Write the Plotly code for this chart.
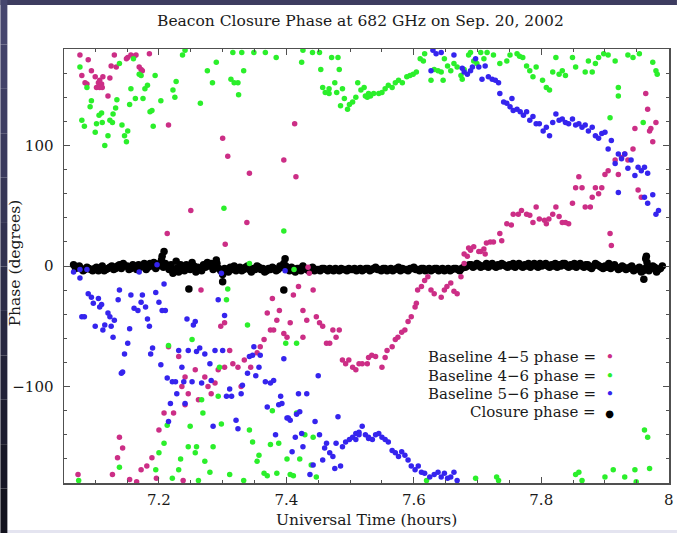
import plotly.graph_objects as go

# ---------------- data (time in UT hours, phase in degrees) ----------------
baseline_45 = [
    (7.076, 175), (7.079, 158), (7.084, 152), (7.087, 151), (7.089, 171), (7.094, 162),
    (7.100, 157), (7.102, 148), (7.105, 152), (7.107, 154), (7.107, 148), (7.110, 151),
    (7.111, 148), (7.112, 157), (7.120, 141), (7.123, 156), (7.125, 166), (7.130, 175),
    (7.133, 165), (7.149, 172), (7.151, 173), (7.156, 175), (7.161, 174), (7.164, 175),
    (7.169, 165), (7.172, 163), (7.174, 162), (7.185, 176),
    (7.073, -173), (7.127, -173), (7.135, -159), (7.138, -142), (7.143, -151), (7.154, -177),
    (7.172, -169), (7.181, -166), (7.189, -159), (7.200, -136), (7.208, -122), (7.223, -122),
    (7.165, -179), (7.238, -178), (7.196, -176),
    (7.215, 117), (7.300, 106), (7.308, 91), (7.342, 77), (7.413, 118), (7.396, 88),
    (7.415, 74), (7.250, 46), (7.338, 36), (7.213, 27), (7.304, 18),
    (7.215, -67), (7.231, -75), (7.241, -92), (7.236, -100), (7.246, -106), (7.241, -115),
    (7.257, -86), (7.262, -111), (7.266, -20), (7.272, -92), (7.277, -100), (7.282, -106),
    (7.288, -97), (7.293, -86), (7.297, -50), (7.303, -47), (7.303, -84), (7.311, -70),
    (7.316, -81), (7.324, -84), (7.329, -100), (7.334, -78), (7.344, -84), (7.354, -72),
    (7.359, -67), (7.365, -61), (7.370, -39), (7.375, -53), (7.380, -53), (7.378, -27),
    (7.385, -45), (7.389, -37), (7.396, -56), (7.401, -59), (7.406, -47), (7.411, -24),
    (7.419, -17), (7.426, -37), (7.432, -45), (7.426, -59), (7.442, -20), (7.447, -42),
    (7.452, -47), (7.457, -50), (7.463, -64), (7.468, -64), (7.473, -53), (7.478, -59),
    (7.483, -53), (7.488, -78), (7.493, -81), (7.498, -78), (7.504, -84), (7.509, -86),
    (7.514, -81), (7.519, -81), (7.527, -81), (7.534, -74), (7.434, -1), (7.436, -6),
    (7.529, -76), (7.540, -75), (7.550, -84), (7.555, -76), (7.558, -70), (7.566, -67),
    (7.571, -61), (7.575, -59), (7.581, -55), (7.586, -53), (7.591, -46), (7.596, -42),
    (7.602, -34), (7.604, -31), (7.606, -20), (7.612, -17), (7.617, -12), (7.622, -9),
    (7.627, -20), (7.632, -23), (7.643, -26), (7.648, -20), (7.652, -17), (7.658, -14),
    (7.663, -21), (7.668, -23), (7.674, -9), (7.679, 2), (7.684, 8), (7.689, 13),
    (7.694, 16), (7.702, 12), (7.710, 14), (7.714, 19), (7.725, 20),
    (7.679, 10), (7.686, 15), (7.705, 12), (7.712, 10), (7.720, 20), (7.735, 27),
    (7.738, 21), (7.746, 35), (7.753, 34), (7.756, 43), (7.764, 43), (7.769, 46),
    (7.777, 43), (7.782, 42), (7.787, 36), (7.792, 49), (7.797, 39), (7.805, 38),
    (7.808, 35), (7.812, 39), (7.818, 43), (7.823, 49), (7.828, 41), (7.833, 36),
    (7.838, 36), (7.843, 35), (7.849, 52), (7.854, 65), (7.859, 74), (7.864, 65),
    (7.869, 49), (7.877, 49), (7.880, 57), (7.885, 65), (7.890, 60), (7.895, 65),
    (7.900, 76), (7.905, 79), (7.908, 27), (7.910, 17), (7.916, 88), (7.921, 76),
    (7.926, 90), (7.931, 93), (7.936, 88), (7.944, 97), (7.947, 114), (7.952, 63),
    (7.957, 57), (7.964, 143), (7.967, 130), (7.970, 112), (7.975, 103), (7.980, 119),
    (7.972, 114),
]

baseline_46 = [
    (7.076, 165), (7.087, 148), (7.094, 137), (7.092, 132), (7.079, 121), (7.083, 116),
    (7.100, 111), (7.102, 118), (7.106, 125), (7.110, 127), (7.111, 119), (7.115, 100),
    (7.120, 108), (7.123, 121), (7.127, 119), (7.128, 126), (7.132, 131), (7.134, 138),
    (7.138, 168), (7.142, 117), (7.146, 108), (7.149, 103), (7.151, 112), (7.154, 134),
    (7.156, 147), (7.160, 172), (7.163, 139), (7.169, 159), (7.172, 158), (7.175, 139),
    (7.178, 147), (7.182, 150), (7.186, 128), (7.189, 129), (7.191, 116), (7.194, 158),
    (7.203, 137), (7.222, 146), (7.225, 140), (7.227, 153), (7.237, 175), (7.241, 179),
    (7.265, 135), (7.276, 162), (7.284, 152), (7.290, 169), (7.313, 155), (7.318, 152),
    (7.324, 152), (7.325, 142), (7.333, 162), (7.316, 177), (7.330, 177), (7.349, 177),
    (7.367, 177), (7.384, 173), (7.424, 169), (7.426, 179), (7.441, 177), (7.452, 177),
    (7.454, 163), (7.471, 173), (7.481, 173), (7.483, 163), (7.457, 148), (7.461, 144),
    (7.467, 147), (7.467, 143), (7.476, 152), (7.479, 144), (7.488, 147), (7.485, 133),
    (7.491, 139), (7.496, 130), (7.499, 134), (7.504, 136), (7.512, 152), (7.517, 146),
    (7.522, 148), (7.527, 140), (7.532, 141), (7.537, 143),
    (7.302, 48), (7.396, 29), (7.342, 2), (7.412, -3),
    (7.509, 140), (7.524, 141), (7.529, 143), (7.545, 143), (7.550, 144), (7.555, 147),
    (7.560, 150), (7.566, 148), (7.571, 152), (7.576, 154), (7.582, 152), (7.589, 157),
    (7.594, 158), (7.599, 159), (7.604, 161), (7.610, 172), (7.615, 170), (7.617, 176),
    (7.627, 154), (7.632, 163), (7.638, 162), (7.643, 161), (7.646, 154), (7.648, 172),
    (7.653, 166), (7.658, 162), (7.663, 168), (7.668, 165), (7.674, 158), (7.676, 155),
    (7.679, 163), (7.686, 175), (7.689, 177), (7.694, 170), (7.699, 168), (7.705, 177),
    (7.710, 172), (7.715, 177), (7.725, 175), (7.735, 168), (7.746, 170), (7.751, 175),
    (7.762, 176), (7.766, 174), (7.771, 173), (7.777, 166), (7.782, 162), (7.787, 157),
    (7.792, 165), (7.802, 154), (7.808, 148), (7.813, 146), (7.818, 161), (7.823, 173),
    (7.828, 159), (7.833, 162), (7.838, 158), (7.849, 173), (7.854, 165), (7.869, 161),
    (7.874, 170), (7.880, 161), (7.885, 168), (7.890, 173), (7.898, 176), (7.905, 175),
    (7.916, 170), (7.921, 148), (7.921, 141), (7.908, 123), (7.936, 175), (7.944, 173),
    (7.954, 176), (7.960, 119), (7.975, 169), (7.980, 162), (7.982, 159),
    (7.074, -178), (7.138, -167), (7.195, -169), (7.200, -155), (7.208, -147), (7.213, -132),
    (7.215, -66), (7.221, -176), (7.231, -169), (7.234, -160), (7.246, -150), (7.249, -133),
    (7.252, -61), (7.257, -155), (7.259, -150), (7.262, -178), (7.267, -111), (7.269, -122),
    (7.272, -162), (7.280, -171), (7.285, -150), (7.293, -108), (7.295, -84), (7.298, -131),
    (7.306, -28), (7.308, -19), (7.311, -173), (7.333, -178), (7.339, -49), (7.342, -136),
    (7.347, -146), (7.354, -162), (7.357, -157), (7.365, -172), (7.370, -174), (7.375, -148),
    (7.378, -120), (7.385, -172), (7.388, -147), (7.399, -64), (7.401, -160), (7.406, -173),
    (7.411, -174), (7.416, -64), (7.416, -122), (7.421, -160), (7.429, -140), (7.439, -165),
    (7.447, -175), (7.442, -142),
    (7.620, -178), (7.697, -176), (7.730, -175), (7.733, -178), (7.854, -173), (7.859, -171),
    (7.864, -178), (7.900, -175), (7.913, -169), (7.931, -175), (7.947, -169), (7.949, -179),
    (7.962, -136), (7.967, -142), (7.970, -168),
]

baseline_56 = [
    (7.066, -5), (7.076, -10), (7.076, -3), (7.087, -3), (7.079, -42), (7.083, -42),
    (7.089, -23), (7.094, -26), (7.097, -31), (7.100, -50), (7.105, -27), (7.107, -34),
    (7.110, -32), (7.112, -53), (7.115, -49), (7.120, -39), (7.123, -42), (7.125, -50),
    (7.128, -59), (7.130, -45), (7.136, -28), (7.138, -20), (7.141, -89), (7.143, -88),
    (7.146, -73), (7.151, -64), (7.154, -52), (7.156, -24), (7.161, -35), (7.167, -37),
    (7.169, -5), (7.172, -30), (7.174, -24), (7.179, -34), (7.182, -44), (7.185, -50),
    (7.187, -73), (7.190, -68), (7.195, -22), (7.197, 1), (7.200, -30), (7.203, -82),
    (7.205, -37), (7.208, -15), (7.210, -37), (7.213, -93), (7.215, -129), (7.218, -114),
    (7.221, -96), (7.226, -96), (7.228, -106), (7.231, -70), (7.236, -84), (7.239, -96),
    (7.241, -114), (7.244, -44), (7.246, -70), (7.252, -96), (7.254, -49), (7.257, -46),
    (7.259, -71), (7.264, -68), (7.267, -97), (7.272, -73), (7.280, -81), (7.282, -95),
    (7.285, -133), (7.288, -70), (7.293, -28), (7.298, -6), (7.300, -70), (7.303, -41),
    (7.306, -108), (7.311, -102), (7.314, -108), (7.321, -128), (7.324, -135), (7.329, -106),
    (7.331, -99), (7.339, -89), (7.342, -75), (7.347, -74), (7.349, -67), (7.352, -91),
    (7.357, -84), (7.359, -74), (7.367, -96), (7.370, -117), (7.375, -97), (7.380, -95),
    (7.383, -140), (7.388, -115), (7.391, -108), (7.393, -114), (7.396, -77), (7.398, -4),
    (7.401, -126), (7.403, -126), (7.406, -128), (7.409, -154), (7.414, -142), (7.416, -123),
    (7.419, -106), (7.421, -121), (7.424, -139), (7.426, -150), (7.432, -106), (7.437, -173),
    (7.442, -165), (7.445, -129), (7.450, -91), (7.452, -140), (7.457, -161), (7.460, -151),
    (7.463, -147), (7.468, -155), (7.473, -158), (7.476, -168), (7.478, -147), (7.481, -125),
    (7.485, -166), (7.488, -150), (7.493, -146), (7.499, -144), (7.504, -142), (7.509, -139),
    (7.514, -138), (7.519, -133), (7.524, -140), (7.529, -143), (7.535, -144), (7.509, -144),
    (7.514, -140), (7.529, -142), (7.540, -140), (7.545, -139), (7.550, -142), (7.555, -144),
    (7.560, -146), (7.566, -153), (7.571, -155), (7.576, -158), (7.581, -154), (7.586, -157),
    (7.591, -161), (7.596, -166), (7.602, -169), (7.607, -166), (7.612, -171), (7.617, -172),
    (7.625, -175), (7.632, -173), (7.638, -171), (7.643, -175), (7.648, -172), (7.653, -176),
    (7.658, -175), (7.663, -171), (7.668, -178),
    (7.630, 179), (7.635, 176), (7.643, 177), (7.663, 175), (7.627, 162), (7.676, 164),
    (7.679, 161), (7.684, 159), (7.689, 162), (7.692, 165), (7.697, 172), (7.702, 165),
    (7.707, 155), (7.712, 166), (7.717, 157), (7.723, 155), (7.728, 154), (7.733, 152),
    (7.735, 143), (7.741, 136), (7.746, 135), (7.751, 132), (7.754, 139), (7.756, 129),
    (7.762, 130), (7.767, 128), (7.772, 125), (7.777, 128), (7.782, 121), (7.787, 124),
    (7.792, 118), (7.797, 118), (7.803, 112), (7.808, 115), (7.813, 108), (7.818, 119),
    (7.823, 126), (7.828, 121), (7.833, 122), (7.838, 119), (7.843, 118), (7.849, 122),
    (7.854, 117), (7.859, 118), (7.864, 115), (7.869, 117), (7.874, 112), (7.880, 115),
    (7.885, 108), (7.890, 106), (7.895, 110), (7.900, 111), (7.905, 97), (7.910, 104),
    (7.916, 85), (7.921, 93), (7.926, 89), (7.931, 93), (7.936, 81), (7.941, 88),
    (7.947, 75), (7.952, 82), (7.957, 79), (7.962, 82), (7.967, 77), (7.921, 61),
    (7.962, 57), (7.967, 52), (7.975, 59), (7.980, 43), (7.984, 46),
]

closure = [
    (7.066, 1), (7.072, -1), (7.078, -2), (7.084, -3), (7.090, -2), (7.096, -4), (7.102, -1),
    (7.108, -2), (7.114, -4), (7.120, -2), (7.126, 0), (7.132, -2), (7.138, 1), (7.144, 2),
    (7.150, 0), (7.156, -2), (7.162, -1), (7.168, 1), (7.174, 0), (7.180, -3), (7.186, 2),
    (7.192, 3), (7.198, 0), (7.204, 5), (7.210, 2), (7.216, -3), (7.222, -6), (7.228, -2),
    (7.234, 1), (7.240, -4), (7.246, -1), (7.252, 3), (7.258, -5), (7.264, -2), (7.270, 1),
    (7.276, 3), (7.282, 2), (7.288, 0), (7.294, -2), (7.300, -7), (7.306, -3), (7.312, -1),
    (7.318, 0), (7.324, -2), (7.330, -4), (7.336, -1), (7.342, -3), (7.348, -2), (7.354, 0),
    (7.360, -3), (7.366, -5), (7.372, -2), (7.378, -1), (7.384, -4), (7.390, 0), (7.396, 2),
    (7.402, -3), (7.408, -1), (7.414, -5), (7.420, -2), (7.426, 0), (7.432, -3), (7.438, -2),
    (7.444, -4), (7.450, -3), (7.456, -2), (7.462, -3), (7.468, -2), (7.474, -4), (7.480, -3),
    (7.486, -2), (7.492, -3), (7.498, -2), (7.504, -3), (7.510, -4), (7.516, -2), (7.522, -3),
    (7.528, -2), (7.534, -3), (7.540, -1), (7.546, -3), (7.552, -2), (7.558, -4), (7.564, -2),
    (7.570, -3), (7.576, -1), (7.582, -2), (7.588, -3), (7.594, -2), (7.600, -1), (7.606, -3),
    (7.612, -2), (7.618, -4), (7.624, -2), (7.630, -3), (7.636, -2), (7.642, -3), (7.648, -4),
    (7.654, -2), (7.660, -3), (7.666, -2), (7.672, -4), (7.678, -1), (7.684, 0), (7.690, 1),
    (7.696, 0), (7.702, 1), (7.708, 0), (7.714, 2), (7.720, 1), (7.726, 0), (7.732, 1),
    (7.738, 2), (7.744, 0), (7.750, 1), (7.756, 2), (7.762, 1), (7.768, 0), (7.774, 1),
    (7.780, 2), (7.786, 1), (7.792, 0), (7.798, 2), (7.804, 1), (7.810, 0), (7.816, 1),
    (7.822, 2), (7.828, 1), (7.834, 2), (7.840, 0), (7.846, 1), (7.852, 2), (7.858, 1),
    (7.864, 0), (7.870, 1), (7.876, -1), (7.882, 0), (7.888, 1), (7.894, -1), (7.900, 0),
    (7.906, 2), (7.912, 0), (7.918, -1), (7.924, -2), (7.930, -1), (7.936, -2), (7.942, 0),
    (7.948, -3), (7.954, -1), (7.960, -4), (7.966, 3), (7.972, -2), (7.978, -1), (7.984, -3),
    (7.990, 0),
    (7.069, -2), (7.075, 0), (7.081, -4), (7.087, -1), (7.093, -3), (7.099, -2), (7.105, -4),
    (7.111, 0), (7.117, -3), (7.123, -1), (7.129, -3), (7.135, 0), (7.141, -2), (7.147, 0),
    (7.153, -3), (7.159, 1), (7.165, -3), (7.171, -1), (7.177, 2), (7.183, -1), (7.189, 0),
    (7.195, -2), (7.201, 2), (7.207, -1), (7.213, 0), (7.219, 1), (7.225, -3), (7.231, -5),
    (7.237, -2), (7.243, 1), (7.249, -3), (7.255, 0), (7.261, -1), (7.267, -4), (7.273, -1),
    (7.279, 0), (7.285, -3), (7.291, 2), (7.297, -4), (7.303, -2), (7.309, -5), (7.315, -3),
    (7.321, -4), (7.327, -1), (7.333, -3), (7.339, 0), (7.345, -5), (7.351, -3), (7.357, -1),
    (7.363, -2), (7.369, -4), (7.375, -3), (7.381, -2), (7.387, -3), (7.393, -1), (7.399, 0),
    (7.405, -4), (7.411, -3), (7.417, -2), (7.423, -4), (7.429, -2), (7.435, -4), (7.441, -1),
    (7.447, -3), (7.453, -4), (7.459, -2), (7.465, -4), (7.471, -3), (7.477, -2), (7.483, -4),
    (7.489, -3), (7.495, -4), (7.501, -3), (7.507, -2), (7.513, -3), (7.519, -4), (7.525, -2),
    (7.531, -4), (7.537, -2), (7.543, -3), (7.549, -4), (7.555, -2), (7.561, -3), (7.567, -4),
    (7.573, -2), (7.579, -4), (7.585, -3), (7.591, -4), (7.597, -2), (7.603, -3), (7.609, -4),
    (7.615, -2), (7.621, -3), (7.627, -4), (7.633, -2), (7.639, -4), (7.645, -2), (7.651, -3),
    (7.657, -4), (7.663, -2), (7.669, -3), (7.675, -2), (7.681, -1), (7.687, 1), (7.693, -1),
    (7.699, 2), (7.705, -1), (7.711, 0), (7.717, -1), (7.723, 2), (7.729, -1), (7.735, 0),
    (7.741, 1), (7.747, -1), (7.753, 0), (7.759, -1), (7.765, 2), (7.771, -1), (7.777, 0),
    (7.783, -1), (7.789, 2), (7.795, -1), (7.801, 0), (7.807, 2), (7.813, -1), (7.819, 0),
    (7.825, -1), (7.831, 0), (7.837, 2), (7.843, -1), (7.849, 0), (7.855, -1), (7.861, 2),
    (7.867, -1), (7.873, 1), (7.879, -2), (7.885, 2), (7.891, 0), (7.897, -2), (7.903, -1),
    (7.909, -2), (7.915, 1), (7.921, -3), (7.927, 0), (7.933, -3), (7.939, -1), (7.945, -4),
    (7.951, -2), (7.957, -5), (7.963, -2), (7.969, -4), (7.975, 0), (7.981, -5), (7.987, -2),
    (7.208, 12), (7.247, -19), (7.300, -13), (7.396, -20), (7.398, 6), (7.964, 6),
    (7.961, -11), (7.965, 8), (7.205, 8), (7.227, 4), (7.290, 5),
]

series_names = ["Baseline 4\u22125 phase", "Baseline 4\u22126 phase",
                "Baseline 5\u22126 phase", "Closure phase"]
x_ticks = [7.2, 7.4, 7.6, 7.8, 8.0]
x_tick_labels = ["7.2", "7.4", "7.6", "7.8", "8"]
y_ticks = [-100, 0, 100]
y_tick_labels = ["\u2212100", "0", "100"]

# ---------------- styling ----------------
PINK, GREEN, BLUE, BLACK = "#cc2e86", "#2bef2b", "#3524ee", "#000000"
FONT = "DejaVu Serif"
TXT = "#1a1a1a"
W, H = 681, 533
ML, MR, MT, MB = 64, 8, 49, 50
PW, PH = W - ML - MR, H - MT - MB


def px(xpix):
    return (xpix - ML) / PW


def py(ypix):
    return (H - MB - ypix) / PH


fig = go.Figure()


def add(series, color, size, name):
    t, v = zip(*series)
    fig.add_trace(go.Scatter(x=list(t), y=list(v), mode="markers", name=name,
                             marker=dict(color=color, size=size, line=dict(width=0)),
                             showlegend=False, hoverinfo="skip"))


add(closure, BLACK, 7.5, series_names[3])
add(baseline_45, PINK, 5.5, series_names[0])
add(baseline_46, GREEN, 5.5, series_names[1])
add(baseline_56, BLUE, 5.5, series_names[2])

axis_common = dict(showline=True, linecolor="#505050", linewidth=1.5, mirror="allticks",
                   ticks="inside", ticklen=6, tickwidth=1, tickcolor="#505050",
                   showgrid=False, zeroline=False,
                   tickfont=dict(family=FONT, size=15, color=TXT))

fig.update_xaxes(range=[7.051, 8.0005], tickmode="array", tickvals=x_ticks, ticktext=x_tick_labels,
                 minor=dict(tick0=7.0, dtick=0.05, ticks="inside", ticklen=3,
                            tickcolor="#505050", showgrid=False),
                 ticklabelstandoff=2, **axis_common)
fig.update_yaxes(range=[-180, 180], tickmode="array", tickvals=y_ticks, ticktext=y_tick_labels,
                 minor=dict(tick0=0, dtick=20, ticks="inside", ticklen=3,
                            tickcolor="#505050", showgrid=False),
                 ticklabelstandoff=6, **axis_common)

# background frame (dark slide border around the white panel)
shapes = [
    dict(type="rect", xref="paper", yref="paper", x0=px(0), x1=px(W), y0=py(5), y1=py(0),
         fillcolor="#3d3c60", line=dict(width=0), layer="below"),
    dict(type="rect", xref="paper", yref="paper", x0=px(0), x1=px(W), y0=py(H), y1=py(530),
         fillcolor="#e4e4f0", line=dict(width=0), layer="below"),
]
strip_cols = ["#46466e", "#424269", "#3e3e63", "#3a3a5d", "#363656", "#313150",
              "#2c2c48", "#272740", "#222238", "#1c1c2f", "#171726", "#12121d"]
n = len(strip_cols)
for i, c in enumerate(strip_cols):
    shapes.append(dict(type="rect", xref="paper", yref="paper", x0=px(0), x1=px(7),
                       y0=py(H * (i + 1) / n), y1=py(H * i / n),
                       fillcolor=c, line=dict(width=0), layer="below"))

annotations = [
    dict(text="Beacon Closure Phase at 682 GHz on Sep. 20, 2002", x=px(362), y=py(21),
         xref="paper", yref="paper", showarrow=False, xanchor="center", yanchor="middle",
         font=dict(family=FONT, size=15.5, color=TXT)),
    dict(text="Universal Time (hours)", x=px(369), y=py(520), xref="paper", yref="paper",
         showarrow=False, xanchor="center", yanchor="middle",
         font=dict(family=FONT, size=15.5, color=TXT)),
    dict(text="Phase (degrees)", x=px(15), y=py(263), xref="paper", yref="paper",
         showarrow=False, xanchor="center", yanchor="middle", textangle=-90,
         font=dict(family=FONT, size=15.5, color=TXT)),
]
legend_rows = [(series_names[0], PINK, "\u2022"), (series_names[1], GREEN, "\u2022"),
               (series_names[2], BLUE, "\u2022"), (series_names[3], BLACK, "\u25CF")]
legend_y = [357, 376, 394, 412]
for (label, col, sym), ly in zip(legend_rows, legend_y):
    size = 10 if sym == "\u25CF" else 15
    annotations.append(dict(
        text=f"{label} =&nbsp;&nbsp;<span style='color:{col};font-size:{size}px'>{sym}</span>",
        x=px(620), y=py(ly), xref="paper", yref="paper", showarrow=False,
        xanchor="right", yanchor="middle", align="right",
        font=dict(family=FONT, size=15, color=TXT)))

fig.update_layout(width=W, height=H, margin=dict(l=ML, r=MR, t=MT, b=MB),
                  paper_bgcolor="#ffffff", plot_bgcolor="#ffffff",
                  shapes=shapes, annotations=annotations, showlegend=False,
                  hovermode=False)

fig.write_html("out.html", config={"displayModeBar": False, "staticPlot": True},
               post_script="document.body.style.margin='0';"
                           "document.body.style.overflow='hidden';"
                           "document.documentElement.style.overflow='hidden';")
